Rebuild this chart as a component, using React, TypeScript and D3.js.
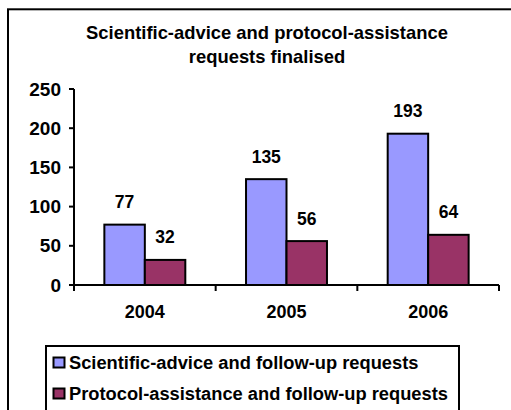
import React from "react";
import * as d3 from "d3";

const years = ["2004", "2005", "2006"];
const scientificAdvice = [77, 135, 193];
const protocolAssistance = [32, 56, 64];
const yTicks = [0, 50, 100, 150, 200, 250];
const seriesNames = [
  "Scientific-advice and follow-up requests",
  "Protocol-assistance and follow-up requests",
];
const seriesColors = ["#9999FF", "#993366"];
const titleLines = ["Scientific-advice and protocol-assistance", "requests finalised"];

const W = 511;
const H = 410;
const FONT = "'Liberation Sans', Arial, sans-serif";

export default function App() {
  const x0 = 74, x1 = 499, yTop = 89, yBase = 285;
  const x = d3.scaleBand<string>().domain(years).range([x0, x1]).padding(0);
  const y = d3.scaleLinear().domain([0, 250]).range([yBase, yTop]);
  const step = x.step();
  const bw = step / 3.5;
  const series = [scientificAdvice, protocolAssistance];

  return (
    <svg width={W} height={H} style={{ position: "absolute", left: 0, top: 0 }} fontFamily={FONT} fontWeight="bold">
      <rect x={0} y={0} width={W} height={H} fill="#fff" />
      <rect x={8} y={9.3} width={W + 20} height={H + 20} fill="#fff" stroke="#000" strokeWidth={2} />
      {titleLines.map((t, i) => (
        <text key={i} x={267} y={39.3 + i * 24} textAnchor="middle" fontSize={18.4} fill="#000">
          {t}
        </text>
      ))}
      {/* bars */}
      {years.map((yr, i) => {
        const c = (x(yr) as number) + step / 2;
        return series.map((s, j) => {
          const bx = c - bw + j * bw;
          const v = s[i];
          return (
            <g key={yr + j}>
              <rect x={bx} y={y(v)} width={bw} height={yBase - y(v)} fill={seriesColors[j]} stroke="#000" strokeWidth={2} />
              <text x={bx + bw / 2} y={y(v) - 16.5} textAnchor="middle" fontSize={17.5} fill="#000">
                {v}
              </text>
            </g>
          );
        });
      })}
      {/* y axis */}
      <line x1={x0} x2={x0} y1={yTop} y2={yBase + 6} stroke="#000" strokeWidth={2} />
      {yTicks.map((t) => (
        <g key={t}>
          <line x1={x0 - 5} x2={x0} y1={y(t)} y2={y(t)} stroke="#000" strokeWidth={2} />
          <text x={61} y={y(t) + 6.5} textAnchor="end" fontSize={19} fill="#000">
            {t}
          </text>
        </g>
      ))}
      {/* x axis */}
      <line x1={x0 - 5} x2={x1} y1={yBase} y2={yBase} stroke="#000" strokeWidth={2} />
      {years.map((yr) => (
        <g key={yr}>
          <line x1={(x(yr) as number) + step} x2={(x(yr) as number) + step} y1={yBase} y2={yBase + 6} stroke="#000" strokeWidth={2} />
          <text x={(x(yr) as number) + step / 2} y={318} textAnchor="middle" fontSize={18} fill="#000">
            {yr}
          </text>
        </g>
      ))}
      {/* legend */}
      <rect x={46} y={346} width={413} height={100} fill="#fff" stroke="#000" strokeWidth={2} />
      {seriesNames.map((n, i) => (
        <g key={n}>
          <rect x={53.5} y={357.5 + i * 31} width={11} height={10} fill={seriesColors[i]} stroke="#000" strokeWidth={2} />
          <text x={69} y={368.5 + i * 31} fontSize={18.3} fill="#000">
            {n}
          </text>
        </g>
      ))}
    </svg>
  );
}
